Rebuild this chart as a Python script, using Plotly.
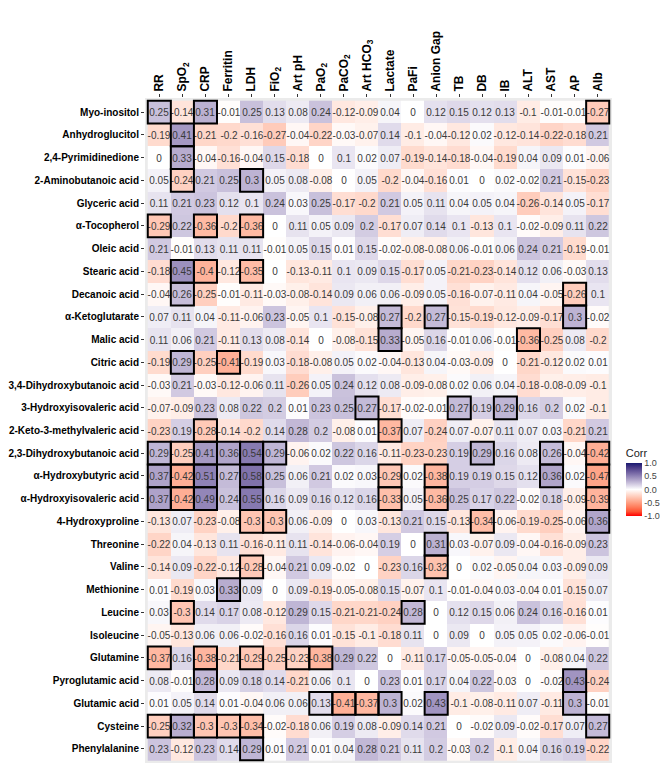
import plotly.graph_objects as go

# clinical parameters (columns) and metabolites (rows)
params = ["RR", "SpO<sub>2</sub>", "CRP", "Ferritin", "LDH", "FiO<sub>2</sub>", "Art pH",
          "PaO<sub>2</sub>", "PaCO<sub>2</sub>", "Art HCO<sub>3</sub>", "Lactate", "PaFi",
          "Anion Gap", "TB", "DB", "IB", "ALT", "AST", "AP", "Alb"]
short = ["RR", "SpO2", "CRP", "Ferritin", "LDH", "FiO2", "Art pH", "PaO2", "PaCO2",
         "Art HCO3", "Lactate", "PaFi", "Anion Gap", "TB", "DB", "IB", "ALT", "AST", "AP", "Alb"]

metabolites = ["Myo-inositol", "Anhydroglucitol", "2,4-Pyrimidinedione", "2-Aminobutanoic acid",
               "Glyceric acid", "α-Tocopherol", "Oleic acid", "Stearic acid", "Decanoic acid",
               "α-Ketoglutarate", "Malic acid", "Citric acid", "3,4-Dihydroxybutanoic acid",
               "3-Hydroxyisovaleric acid", "2-Keto-3-methylvaleric acid",
               "2,3-Dihydroxybutanoic acid", "α-Hydroxybutyric acid", "α-Hydroxyisovaleric acid",
               "4-Hydroxyproline", "Threonine", "Valine", "Methionine", "Leucine", "Isoleucine",
               "Glutamine", "Pyroglutamic acid", "Glutamic acid", "Cysteine", "Phenylalanine"]

corr = [
    [0.25, -0.14, 0.31, -0.01, 0.25, 0.13, 0.08, 0.24, -0.12, -0.09, 0.04, 0, 0.12, 0.15, 0.12, 0.13, -0.1, -0.01, -0.01, -0.27],
    [-0.19, 0.41, -0.21, -0.2, -0.16, -0.27, -0.04, -0.22, -0.03, -0.07, 0.14, -0.1, -0.04, -0.12, 0.02, -0.12, -0.14, -0.22, -0.18, 0.21],
    [0, 0.33, -0.04, -0.16, -0.04, 0.15, -0.18, 0, 0.1, 0.02, 0.07, -0.19, -0.14, -0.18, -0.04, -0.19, 0.04, 0.09, 0.01, -0.06],
    [0.05, -0.24, 0.21, 0.25, 0.3, 0.05, 0.08, -0.08, 0, 0.05, -0.2, -0.04, -0.16, 0.01, 0, 0.02, -0.02, 0.21, -0.15, -0.23],
    [0.11, 0.21, 0.23, 0.12, 0.1, 0.24, 0.03, 0.25, -0.17, -0.2, 0.21, 0.05, 0.11, 0.04, 0.05, 0.04, -0.26, -0.14, 0.05, -0.17],
    [-0.29, 0.22, -0.36, -0.2, -0.36, 0, 0.11, 0.05, 0.09, 0.2, -0.17, 0.07, 0.14, 0.1, -0.13, 0.1, -0.02, -0.09, 0.11, 0.22],
    [0.21, -0.01, 0.13, 0.11, 0.11, -0.01, 0.05, 0.15, 0.01, 0.15, -0.02, -0.08, -0.08, 0.06, -0.01, 0.06, 0.24, 0.21, -0.19, -0.01],
    [-0.18, 0.45, -0.4, -0.12, -0.35, 0, -0.13, -0.11, 0.1, 0.09, 0.15, -0.17, 0.05, -0.21, -0.23, -0.14, 0.12, 0.06, -0.03, 0.13],
    [-0.04, 0.26, -0.25, -0.01, -0.11, -0.03, -0.08, -0.14, 0.09, 0.06, 0.06, -0.09, 0.05, -0.16, -0.07, -0.11, 0.04, -0.05, -0.26, 0.1],
    [0.07, 0.11, 0.04, -0.11, -0.06, 0.23, -0.05, 0.1, -0.15, -0.08, 0.27, -0.2, 0.27, -0.15, -0.19, -0.12, -0.09, -0.17, 0.3, -0.02],
    [0.11, 0.06, 0.21, -0.11, 0.13, 0.08, -0.14, 0, -0.08, -0.15, 0.33, -0.05, 0.16, -0.01, 0.06, -0.01, -0.36, -0.25, 0.08, -0.2],
    [-0.19, 0.29, -0.25, -0.41, -0.19, 0.03, -0.18, -0.08, 0.05, 0.02, -0.04, -0.13, 0.04, -0.03, -0.09, 0, -0.21, -0.12, 0.02, 0.01],
    [-0.03, 0.21, -0.03, -0.12, -0.06, 0.11, -0.26, 0.05, 0.24, 0.12, 0.08, -0.09, -0.08, 0.02, 0.06, 0.04, -0.18, -0.08, -0.09, -0.1],
    [-0.07, -0.09, 0.23, 0.08, 0.22, 0.2, 0.01, 0.23, 0.25, 0.27, -0.17, -0.02, -0.01, 0.27, 0.19, 0.29, 0.16, 0.2, 0.02, -0.1],
    [-0.23, 0.19, -0.28, -0.14, -0.2, 0.14, 0.28, 0.2, -0.08, 0.01, -0.37, 0.07, -0.24, 0.07, -0.07, 0.11, 0.07, 0.03, -0.21, 0.21],
    [0.29, -0.25, 0.41, 0.36, 0.54, 0.29, -0.06, 0.02, 0.22, 0.16, -0.11, -0.23, -0.23, 0.19, 0.29, 0.16, 0.08, 0.26, -0.04, -0.42],
    [0.37, -0.42, 0.51, 0.27, 0.58, 0.25, 0.06, 0.21, 0.02, 0.03, -0.29, 0.02, -0.38, 0.19, 0.19, 0.15, 0.12, 0.36, 0.02, -0.47],
    [0.37, -0.42, 0.49, 0.24, 0.55, 0.16, 0.09, 0.16, 0.12, 0.16, -0.33, 0.05, -0.36, 0.25, 0.17, 0.22, -0.02, 0.18, -0.09, -0.39],
    [-0.13, 0.07, -0.23, -0.08, -0.3, -0.3, 0.06, -0.09, 0, 0.03, -0.13, 0.21, 0.15, -0.13, -0.34, -0.06, -0.19, -0.25, -0.06, 0.36],
    [-0.22, 0.04, -0.13, 0.11, -0.16, -0.11, 0.11, -0.14, -0.06, -0.04, 0.19, 0, 0.31, 0.03, -0.07, 0.09, -0.04, -0.16, -0.09, 0.23],
    [-0.14, 0.09, -0.22, -0.12, -0.28, -0.04, 0.21, 0.09, -0.02, 0, -0.23, 0.16, -0.32, 0, 0.02, -0.05, 0.04, 0.03, -0.09, 0.09],
    [0.01, -0.19, 0.03, 0.33, 0.09, 0, 0.09, -0.19, -0.05, -0.08, 0.15, -0.07, 0.1, -0.01, -0.04, 0.03, -0.04, 0.01, -0.15, 0.07],
    [0.03, -0.3, 0.14, 0.17, 0.08, -0.12, 0.29, 0.15, -0.21, -0.21, -0.24, 0.28, 0, 0.12, 0.15, 0.06, 0.24, 0.16, -0.16, 0.01],
    [-0.05, -0.13, 0.06, 0.06, -0.02, -0.16, 0.16, 0.01, -0.15, -0.1, -0.18, 0.11, 0, 0.09, 0, 0.05, 0.05, 0.02, -0.06, -0.01],
    [-0.37, 0.16, -0.38, -0.21, -0.29, -0.25, -0.23, -0.38, 0.29, 0.22, 0, -0.11, 0.17, -0.05, -0.05, -0.04, 0, -0.08, 0.04, 0.22],
    [0.08, -0.01, 0.28, 0.09, 0.18, 0.14, -0.21, 0.06, 0.1, 0, 0.23, 0.01, 0.17, 0.04, 0.22, -0.03, 0, -0.02, 0.43, -0.24],
    [0.01, 0.05, 0.14, 0.01, -0.04, 0.06, 0.06, 0.13, -0.41, -0.37, 0.3, 0.02, 0.43, -0.1, -0.08, -0.11, 0.07, -0.11, 0.3, -0.01],
    [-0.25, 0.32, -0.3, -0.3, -0.34, -0.02, -0.18, 0.06, 0.19, 0.08, -0.09, 0.14, 0.21, 0, -0.02, 0.09, -0.02, -0.17, 0.07, 0.27],
    [0.23, -0.12, 0.23, 0.14, 0.29, 0.01, 0.21, 0.01, 0.04, 0.28, 0.21, 0.11, 0.2, -0.03, 0.2, -0.1, 0.04, 0.16, 0.19, -0.22],
]

# significant cells, drawn with a black outline
significant = {
    "Myo-inositol": ["RR", "CRP", "Alb"],
    "Anhydroglucitol": ["SpO2"],
    "2,4-Pyrimidinedione": ["SpO2"],
    "2-Aminobutanoic acid": ["SpO2", "LDH"],
    "α-Tocopherol": ["RR", "CRP", "LDH"],
    "Stearic acid": ["SpO2", "CRP", "LDH"],
    "Decanoic acid": ["SpO2", "AP"],
    "α-Ketoglutarate": ["Lactate", "Anion Gap", "AP"],
    "Malic acid": ["Lactate", "ALT"],
    "Citric acid": ["SpO2", "Ferritin"],
    "3-Hydroxyisovaleric acid": ["Art HCO3", "TB", "IB"],
    "2-Keto-3-methylvaleric acid": ["CRP", "Lactate"],
    "2,3-Dihydroxybutanoic acid": ["RR", "SpO2", "CRP", "Ferritin", "LDH", "FiO2", "DB", "AST", "Alb"],
    "α-Hydroxybutyric acid": ["RR", "SpO2", "CRP", "LDH", "Lactate", "Anion Gap", "AST", "Alb"],
    "α-Hydroxyisovaleric acid": ["RR", "SpO2", "CRP", "LDH", "Lactate", "Anion Gap", "Alb"],
    "4-Hydroxyproline": ["LDH", "FiO2", "DB", "Alb"],
    "Threonine": ["Anion Gap"],
    "Valine": ["LDH", "Anion Gap"],
    "Methionine": ["Ferritin"],
    "Leucine": ["SpO2", "PaFi"],
    "Glutamine": ["RR", "CRP", "LDH", "Art pH", "PaO2"],
    "Pyroglutamic acid": ["CRP", "AP"],
    "Glutamic acid": ["PaO2", "PaCO2", "Art HCO3", "Lactate", "Anion Gap", "AP"],
    "Cysteine": ["RR", "SpO2", "CRP", "Ferritin", "LDH", "Alb"],
    "Phenylalanine": ["LDH"],
}


def lab_ramp(c0, c1, n=6):
    # interpolate in CIE Lab, as ggplot's gradient does
    def to_lab(c):
        rgb = []
        for v in c:
            v = v / 255
            rgb.append(((v + 0.055) / 1.055) ** 2.4 if v > 0.04045 else v / 12.92)
        r, g, b = rgb
        x = (0.4124 * r + 0.3576 * g + 0.1805 * b) / 0.95047
        y = 0.2126 * r + 0.7152 * g + 0.0722 * b
        z = (0.0193 * r + 0.1192 * g + 0.9505 * b) / 1.08883
        f = lambda t: t ** (1 / 3) if t > 0.008856 else 7.787 * t + 16 / 116
        fx, fy, fz = f(x), f(y), f(z)
        return 116 * fy - 16, 500 * (fx - fy), 200 * (fy - fz)

    def to_rgb(lab):
        L, a, bb = lab
        fy = (L + 16) / 116
        fx = fy + a / 500
        fz = fy - bb / 200
        g = lambda t: t ** 3 if t ** 3 > 0.008856 else (t - 16 / 116) / 7.787
        x, y, z = g(fx) * 0.95047, g(fy), g(fz) * 1.08883
        r = 3.2406 * x - 1.5372 * y - 0.4986 * z
        gg = -0.9689 * x + 1.8758 * y + 0.0415 * z
        b = 0.0557 * x - 0.2040 * y + 1.0570 * z
        out = []
        for v in (r, gg, b):
            v = 1.055 * v ** (1 / 2.4) - 0.055 if v > 0.0031308 else 12.92 * v
            out.append(int(round(min(max(v, 0), 1) * 255)))
        return "rgb(%d,%d,%d)" % tuple(out)

    l0, l1 = to_lab(c0), to_lab(c1)
    return [to_rgb([a + (b - a) * i / n for a, b in zip(l0, l1)]) for i in range(n + 1)]


red_side = lab_ramp((255, 0, 0), (255, 255, 255))
blue_side = lab_ramp((255, 255, 255), (25, 25, 112))
colorscale = [[i / 12, c] for i, c in enumerate(red_side)] + \
             [[0.5 + i / 12, c] for i, c in enumerate(blue_side)][1:]

labels = [["%g" % v for v in row] for row in corr]

fig = go.Figure(go.Heatmap(
    z=corr, x=list(range(len(params))), y=list(range(len(metabolites))),
    text=labels, texttemplate="%{text}",
    textfont=dict(family="Liberation Sans, Arial", size=10, color="#3a3a3a"),
    colorscale=colorscale, zmin=-1, zmax=1,
    colorbar=dict(
        title=dict(text="Corr", font=dict(family="Liberation Sans, Arial", size=11, color="#222")),
        tickvals=[-1, -0.5, 0, 0.5, 1], ticktext=["-1.0", "-0.5", "0.0", "0.5", "1.0"],
        tickfont=dict(family="Liberation Sans, Arial", size=9, color="#444"),
        lenmode="pixels", len=70, ypad=0, thickness=16, x=1.008, xanchor="left",
        y=0.424, yanchor="middle", outlinewidth=0, ticks="", ticklen=0,
    ),
    hoverinfo="skip",
))

for name, cols in significant.items():
    r = metabolites.index(name)
    for cname in cols:
        c = short.index(cname)
        fig.add_shape(type="rect", xref="x", yref="y",
                      x0=c - 0.5, x1=c + 0.5, y0=r - 0.5, y1=r + 0.5,
                      line=dict(color="black", width=2))

fig.update_layout(
    width=669, height=765,
    margin=dict(l=137, r=62, t=90, b=10),
    paper_bgcolor="white", plot_bgcolor="#EBEBEB",
    font=dict(family="Liberation Sans, Arial", color="black"),
)
fig.update_xaxes(side="top", tickmode="array", tickvals=list(range(len(params))),
                 ticktext=params, tickangle=-90, ticks="outside", ticklen=3,
                 tickcolor="#333", tickfont=dict(size=12, color="black", weight="bold"),
                 range=[-0.62, len(params) - 0.38], showgrid=False, zeroline=False,
                 automargin=False)
fig.update_yaxes(tickmode="array", tickvals=list(range(len(metabolites))),
                 ticktext=metabolites, ticks="outside", ticklen=3, tickcolor="#333",
                 tickfont=dict(size=10, color="black", weight="bold"),
                 range=[len(metabolites) - 0.38, -0.62], showgrid=False, zeroline=False,
                 automargin=False)

fig.write_html("out.html")
